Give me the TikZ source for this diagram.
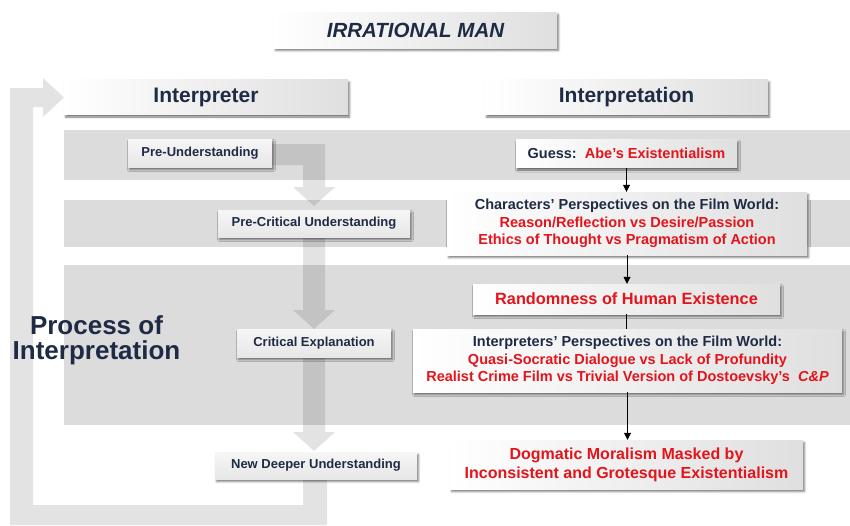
\documentclass[tikz,border=0pt]{standalone}
\usepackage{fontspec}
\setmainfont{Liberation Sans}
\usetikzlibrary{shadows.blur,arrows.meta}

\definecolor{ink}{HTML}{1F2B45}
\definecolor{accent}{HTML}{E3141B}
\definecolor{band}{HTML}{DCDCDC}

\newcommand{\redtxt}[1]{\textcolor{accent}{#1}}
\newcommand{\fs}[2]{\fontsize{#1}{#2}\selectfont\bfseries}

\tikzset{
  softshadow/.style={blur shadow={shadow xshift=1.5pt, shadow yshift=-2.5pt,
      shadow blur radius=2pt, shadow opacity=55}},
  card/.style={rectangle, inner sep=0pt, align=center, text=ink,
      left color=white, right color=gray!25, softshadow},
  headcard/.style={card, font=\fs{21}{24}},
  stagebox/.style={rectangle, inner sep=0pt, text=ink, font=\fs{13}{15},
      top color=gray!7, bottom color=gray!19, softshadow},
  flow/.style={draw=black, line width=0.8pt, -{Triangle[length=7pt,width=7pt]}},
  plainflow/.style={draw=black, line width=0.8pt},
  ghost/.style={fill=black, fill opacity=0.11, draw=none},
  bandstrip/.style={fill=band, draw=none}
}

\begin{document}
\begin{tikzpicture}[x=1pt, y=-1pt]
  \useasboundingbox (0,0) rectangle (850,525);

  % background bands for the stages
  \fill[bandstrip] (64,130) rectangle (850,180);
  \fill[bandstrip] (64,200) rectangle (850,247);
  \fill[bandstrip] (64,265) rectangle (850,425);

  % wide translucent arrows of the process
  \fill[ghost] (270,144) -- (325,144) -- (325,187) -- (335,187) -- (314,206)
      -- (293,187) -- (303,187) -- (303,165) -- (270,165) -- cycle;
  \fill[ghost] (303,237) -- (325,237) -- (325,310) -- (335,310) -- (314,329)
      -- (293,310) -- (303,310) -- cycle;
  \fill[ghost] (303,357) -- (325,357) -- (325,432) -- (335,432) -- (314,451)
      -- (293,432) -- (303,432) -- cycle;
  % loop back to the interpreter
  \fill[ghost] (303,479) -- (327,479) -- (327,525) -- (10,525) -- (10,88)
      -- (43,88) -- (43,78) -- (64,97.5) -- (43,117) -- (43,107) -- (33,107)
      -- (33,505) -- (303,505) -- cycle;

  % headings
  \node[headcard, font=\fs{20.5}{24}\itshape, minimum width=283pt, minimum height=36pt]
      (title) at (415.5,30) {IRRATIONAL MAN};
  \node[headcard, minimum width=284pt, minimum height=35pt]
      (interpreter) at (206,97) {Interpreter};
  \node[headcard, minimum width=283pt, minimum height=35pt]
      (interpretation) at (626.5,97) {Interpretation};

  % stages of the interpreter
  \node[stagebox, minimum width=144pt, minimum height=28pt] (preu) at (200,153) {Pre-Understanding};
  \node[stagebox, minimum width=192pt, minimum height=27pt] (precrit) at (314,223.5) {Pre-Critical Understanding};
  \node[stagebox, minimum width=154pt, minimum height=28pt] (crit) at (314,343) {Critical Explanation};
  \node[stagebox, minimum width=202pt, minimum height=27pt] (ndu) at (316,465.5) {New Deeper Understanding};

  % process label
  \node[align=center, font=\fs{26}{25}, text=ink]
      (proc) at (96.5,340) {Process of\\Interpretation};

  % interpretation steps
  \node[card, font=\fs{14.5}{17.5}, minimum width=221pt, minimum height=28pt]
      (guess) at (626.5,153.5) {Guess:\ \ \redtxt{Abe’s Existentialism}};
  \node[card, font=\fs{14.5}{17.5}, minimum width=360pt, minimum height=63pt]
      (chars) at (627,223.5) {Characters’ Perspectives on the Film World:\\
      \redtxt{Reason/Reflection vs Desire/Passion}\\
      \redtxt{Ethics of Thought vs Pragmatism of Action}};
  \node[card, font=\fs{16.3}{19}, minimum width=307pt, minimum height=30pt]
      (rand) at (626.5,299) {\redtxt{Randomness of Human Existence}};
  \node[card, font=\fs{14.5}{17.5}, minimum width=429pt, minimum height=63pt]
      (interp) at (627.5,360.5) {Interpreters’ Perspectives on the Film World:\\
      \redtxt{Quasi-Socratic Dialogue vs Lack of Profundity}\\
      \redtxt{Realist Crime Film vs Trivial Version of Dostoevsky’s\ \ \textit{C\&P}}};
  \node[card, font=\fs{16}{19}, minimum width=353pt, minimum height=49pt]
      (dog) at (626.5,464.5) {\redtxt{Dogmatic Moralism Masked by}\\
      \redtxt{Inconsistent and Grotesque Existentialism}};

  % connectors between the steps
  \draw[flow] (guess.south) -- (guess.south |- chars.north);
  \draw[flow] (chars.south) -- (chars.south |- rand.north);
  \draw[plainflow] (rand.south) -- (rand.south |- interp.north);
  \draw[flow] (interp.south) -- (interp.south |- dog.north);
\end{tikzpicture}
\end{document}
